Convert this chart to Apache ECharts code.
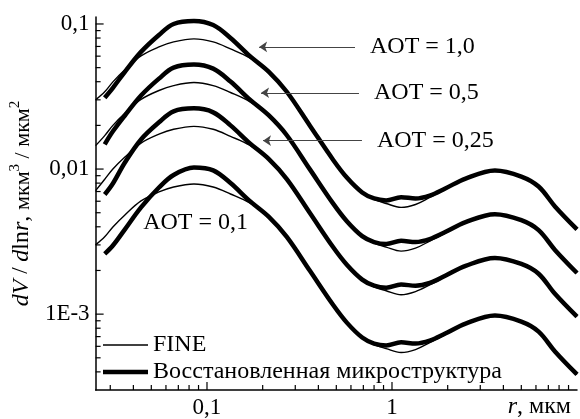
<!DOCTYPE html>
<html>
<head>
<meta charset="utf-8">
<script src="https://cdn.jsdelivr.net/npm/echarts@6/dist/echarts.min.js"></script>
<style>
html,body{margin:0;padding:0;background:#fff;}
#chart{width:580px;height:419px;}
</style>
</head>
<body>
<div id="chart"></div>
<script>
// Radius grid (мкм)
const rThin = [0.025, 0.028, 0.031, 0.036, 0.044, 0.055, 0.066, 0.085, 0.108, 0.134, 0.17, 0.216, 0.27, 0.36, 0.48, 0.57, 0.69, 0.8, 0.93, 1.12, 1.34, 1.6, 1.94, 2.5, 3.6, 5.0, 6.2, 7.6, 10];
const rThick = [0.028, 0.031, 0.036, 0.044, 0.055, 0.066, 0.085, 0.108, 0.134, 0.17, 0.216, 0.27, 0.36, 0.48, 0.57, 0.69, 0.8, 0.93, 1.12, 1.34, 1.6, 1.94, 2.5, 3.6, 5.0, 6.2, 7.6, 10];

// FINE (thin) curves
const fine10 = [0.0300, 0.0341, 0.0399, 0.0483, 0.0603, 0.0695, 0.0752, 0.0789, 0.0752, 0.0673, 0.0584, 0.0470, 0.0341, 0.0199, 0.0116, 0.00874, 0.00690, 0.00617, 0.00579, 0.00544, 0.00570, 0.00637, 0.00723, 0.00860, 0.00977, 0.00888, 0.00758, 0.00553, 0.00384];
const fine05 = [0.0145, 0.0170, 0.0200, 0.0242, 0.0302, 0.0348, 0.0376, 0.0395, 0.0376, 0.0337, 0.0292, 0.0235, 0.0171, 0.00995, 0.0058, 0.00437, 0.00345, 0.00309, 0.00290, 0.00272, 0.00285, 0.00319, 0.00362, 0.0043, 0.00489, 0.00444, 0.00379, 0.00277, 0.00192];
const fine025 = [0.0071, 0.0085, 0.0100, 0.0121, 0.0151, 0.0174, 0.0188, 0.0197, 0.0188, 0.0168, 0.0146, 0.0117, 0.00853, 0.00498, 0.0029, 0.00219, 0.00173, 0.00154, 0.00145, 0.00136, 0.00143, 0.00159, 0.00181, 0.00215, 0.00244, 0.00222, 0.0019, 0.00138, 0.00096];
const fine01 = [0.0030, 0.00341, 0.00399, 0.00483, 0.00603, 0.00695, 0.00752, 0.00789, 0.00752, 0.00673, 0.00584, 0.0047, 0.00341, 0.00199, 0.00116, 0.000874, 0.00069, 0.000617, 0.000579, 0.000544, 0.00057, 0.000637, 0.000723, 0.00086, 0.000977, 0.000888, 0.000758, 0.000553, 0.000384];

// Retrieved (thick) curves
const retr10 = [0.0310, 0.0363, 0.0468, 0.0642, 0.0840, 0.1000, 0.1049, 0.0984, 0.0801, 0.0603, 0.0468, 0.0341, 0.0199, 0.0116, 0.00874, 0.00690, 0.00627, 0.00608, 0.00640, 0.00627, 0.00657, 0.00735, 0.00860, 0.00977, 0.00888, 0.00758, 0.00553, 0.00384];
const retr05 = [0.0148, 0.0182, 0.0234, 0.0321, 0.0420, 0.0500, 0.0525, 0.0492, 0.0401, 0.0302, 0.0234, 0.0171, 0.00995, 0.0058, 0.00437, 0.00345, 0.00314, 0.00304, 0.00320, 0.00314, 0.00329, 0.00368, 0.0043, 0.00489, 0.00444, 0.00379, 0.00277, 0.00192];
const retr025 = [0.00668, 0.00795, 0.0111, 0.0160, 0.0210, 0.0250, 0.0262, 0.0246, 0.0200, 0.0151, 0.0117, 0.00853, 0.00498, 0.0029, 0.00219, 0.00173, 0.00157, 0.00152, 0.00160, 0.00157, 0.00164, 0.00184, 0.00215, 0.00244, 0.00222, 0.0019, 0.00138, 0.00096];
const retr01 = [0.0026, 0.00297, 0.00384, 0.00544, 0.00746, 0.0091, 0.01024, 0.0098, 0.00801, 0.00603, 0.00468, 0.00341, 0.00199, 0.00116, 0.000874, 0.00069, 0.000627, 0.000608, 0.00064, 0.000627, 0.000657, 0.000735, 0.00086, 0.000977, 0.000888, 0.000758, 0.000553, 0.000384];

// Axes
const xMin = 0.025, xMax = 10;
const yMin = 0.0003, yMax = 0.1117;
const xTickValues = [0.1, 1];
const xTickLabels = ['0,1', '1'];
const yTickValues = [0.1, 0.01, 0.001];
const yTickLabels = ['0,1', '0,01', '1E-3'];
const xMinorTicks = [0.03, 0.04, 0.05, 0.06, 0.07, 0.08, 0.09, 0.2, 0.3, 0.4, 0.5, 0.6, 0.7, 0.8, 0.9, 2, 3, 4, 5, 6, 7, 8, 9];
const yMinorTicks = [0.0004, 0.0005, 0.0006, 0.0007, 0.0008, 0.0009, 0.002, 0.003, 0.004, 0.005, 0.006, 0.007, 0.008, 0.009, 0.02, 0.03, 0.04, 0.05, 0.06, 0.07, 0.08, 0.09];

// Annotations
const aotLabels = ['AOT = 1,0', 'AOT = 0,5', 'AOT = 0,25'];
const arrowTipR = [0.1913, 0.196, 0.2008];
const arrowEndR = [0.631, 0.663, 0.688];
const arrowV = [0.0695, 0.03356, 0.0157];
const aotLowLabel = 'AOT = 0,1';
const aotLowPos = [0.0449, 0.0043];

const FONT = 'Liberation Serif';
const NAME_FINE = 'FINE';
const NAME_RETR = 'Восстановленная микроструктура';

function pairs(xs, ys) { return xs.map((x, i) => [x, ys[i]]); }
function labelFor(vals, labs) {
  return function (v) {
    for (let i = 0; i < vals.length; i++) {
      if (Math.abs(Math.log10(v) - Math.log10(vals[i])) < 1e-6) return labs[i];
    }
    return '';
  };
}

// tick data [x, y, kind]; kind 0 x-major,1 x-minor,2 y-major,3 y-minor
const tickData = [];
xTickValues.forEach(v => tickData.push([v, yMin, 0]));
xMinorTicks.forEach(v => tickData.push([v, yMin, 1]));
yTickValues.forEach(v => tickData.push([xMin, v, 2]));
yMinorTicks.forEach(v => tickData.push([xMin, v, 3]));

const chart = echarts.init(document.getElementById('chart'), null, { renderer: 'canvas' });

function thin(data, extra) {
  return Object.assign({
    name: NAME_FINE, type: 'line', data: data, showSymbol: false, symbol: 'none',
    smooth: 0.35, z: 4,
    lineStyle: { color: '#000', width: 1.4 }, itemStyle: { color: '#000' }
  }, extra || {});
}
function thick(data) {
  return {
    name: NAME_RETR, type: 'line', data: data, showSymbol: false, symbol: 'none',
    smooth: 0.35, z: 3,
    lineStyle: { color: '#000', width: 4.5 }, itemStyle: { color: '#000' }
  };
}

const legendText = { fontFamily: FONT, fontSize: 24, color: '#000', lineHeight: 26 };

const option = {
  animation: false,
  backgroundColor: '#fff',
  textStyle: { fontFamily: FONT, color: '#000' },
  grid: { left: 88, right: 0, top: 17, bottom: 28, containLabel: false },
  legend: [
    {
      data: [NAME_FINE], icon: 'rect', selectedMode: false,
      left: 98, top: 327, padding: 5,
      itemWidth: 45, itemHeight: 1.5,
      textStyle: legendText
    },
    {
      data: [NAME_RETR], icon: 'rect', selectedMode: false,
      left: 98, top: 354, padding: 5,
      itemWidth: 45, itemHeight: 4.5,
      textStyle: legendText
    }
  ],
  xAxis: {
    type: 'log', logBase: 10, min: xMin, max: xMax,
    splitLine: { show: false },
    axisTick: { show: false },
    axisLine: { lineStyle: { color: '#000', width: 1.5 } },
    axisLabel: { formatter: labelFor(xTickValues, xTickLabels), fontFamily: FONT, fontSize: 23, color: '#000', margin: 6 },
    name: '{i|r}, мкм',
    nameLocation: 'end',
    nameGap: -6,
    nameTextStyle: {
      align: 'right', verticalAlign: 'top', padding: [5, 0, 0, 0],
      fontFamily: FONT, fontSize: 24, color: '#000',
      rich: { i: { fontFamily: FONT, fontSize: 24, fontStyle: 'italic', color: '#000' } }
    }
  },
  yAxis: {
    type: 'log', logBase: 10, min: yMin, max: yMax,
    splitLine: { show: false },
    axisTick: { show: false },
    axisLine: { lineStyle: { color: '#000', width: 1.5 } },
    axisLabel: { formatter: labelFor(yTickValues, yTickLabels), fontFamily: FONT, fontSize: 23, color: '#000', margin: 6 },
    name: '{i|dV} / {i|d}{n|ln}{i|r}{n|,} {s|мкм}{p|3}{s| / мкм}{p|2}',
    nameLocation: 'middle',
    nameGap: 58,
    nameTextStyle: {
      fontFamily: FONT, fontSize: 23, color: '#000',
      rich: {
        i: { fontFamily: FONT, fontSize: 24, fontStyle: 'italic', color: '#000', lineHeight: 26, verticalAlign: 'bottom' },
        n: { fontFamily: FONT, fontSize: 24, color: '#000', lineHeight: 26, verticalAlign: 'bottom' },
        s: { fontFamily: FONT, fontSize: 22, color: '#000', lineHeight: 26, verticalAlign: 'bottom' },
        p: { fontFamily: FONT, fontSize: 15, color: '#000', lineHeight: 26, verticalAlign: 'top' }
      }
    }
  },
  series: [
    thick(pairs(rThick, retr10)),
    thick(pairs(rThick, retr05)),
    thick(pairs(rThick, retr025)),
    thick(pairs(rThick, retr01)),
    thin(pairs(rThin, fine10), {
      markLine: {
        silent: true,
        symbol: ['arrow', 'none'],
        symbolSize: 8,
        lineStyle: { color: '#444', width: 1.1, type: 'solid' },
        label: {
          show: true, position: 'end', distance: 15, formatter: '{b}',
          fontFamily: FONT, fontSize: 24, color: '#000'
        },
        data: aotLabels.map((lab, i) => [
          { name: lab, coord: [arrowTipR[i], arrowV[i]] },
          { coord: [arrowEndR[i], arrowV[i]] }
        ])
      },
      markPoint: {
        silent: true,
        symbol: 'circle', symbolSize: 1,
        itemStyle: { color: 'rgba(0,0,0,0)' },
        label: { show: true, position: 'right', distance: 0, formatter: '{b}', fontFamily: FONT, fontSize: 24, color: '#000' },
        data: [{ name: aotLowLabel, coord: aotLowPos }]
      }
    }),
    thin(pairs(rThin, fine05)),
    thin(pairs(rThin, fine025)),
    thin(pairs(rThin, fine01)),
    {
      name: 'ticks', type: 'custom', silent: true, clip: false, z: 10,
      data: tickData,
      renderItem: function (params, api) {
        const p = api.coord([api.value(0), api.value(1)]);
        const k = api.value(2);
        const len = (k === 0 || k === 2) ? 8 : 5;
        const shape = k < 2
          ? { x1: p[0], y1: p[1], x2: p[0], y2: p[1] - len }
          : { x1: p[0], y1: p[1], x2: p[0] + len, y2: p[1] };
        return { type: 'line', shape: shape, style: { stroke: '#000', lineWidth: 1.2 } };
      }
    }
  ]
};
chart.setOption(option);
</script>
</body>
</html>
